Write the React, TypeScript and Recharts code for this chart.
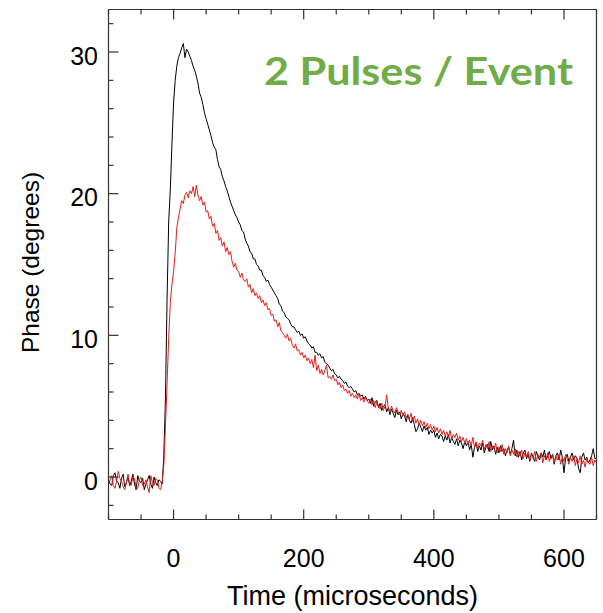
import React from 'react';
import { LineChart, Line, XAxis, YAxis } from 'recharts';

// Time axis (microseconds), 2.5 us sampling
const times = [
  -100, -97.5, -95, -92.5, -90, -87.5, -85, -82.5, -80, -77.5, -75, -72.5, -70, -67.5, -65, -62.5, -60, -57.5, -55, -52.5,
  -50, -47.5, -45, -42.5, -40, -37.5, -35, -32.5, -30, -27.5, -25, -22.5, -20, -17.5, -15, -12.5, -10, -7.5, -5, -2.5,
  0, 2.5, 5, 7.5, 10, 12.5, 15, 17.5, 20, 22.5, 25, 27.5, 30, 32.5, 35, 37.5, 40, 42.5, 45, 47.5,
  50, 52.5, 55, 57.5, 60, 62.5, 65, 67.5, 70, 72.5, 75, 77.5, 80, 82.5, 85, 87.5, 90, 92.5, 95, 97.5,
  100, 102.5, 105, 107.5, 110, 112.5, 115, 117.5, 120, 122.5, 125, 127.5, 130, 132.5, 135, 137.5, 140, 142.5, 145, 147.5,
  150, 152.5, 155, 157.5, 160, 162.5, 165, 167.5, 170, 172.5, 175, 177.5, 180, 182.5, 185, 187.5, 190, 192.5, 195, 197.5,
  200, 202.5, 205, 207.5, 210, 212.5, 215, 217.5, 220, 222.5, 225, 227.5, 230, 232.5, 235, 237.5, 240, 242.5, 245, 247.5,
  250, 252.5, 255, 257.5, 260, 262.5, 265, 267.5, 270, 272.5, 275, 277.5, 280, 282.5, 285, 287.5, 290, 292.5, 295, 297.5,
  300, 302.5, 305, 307.5, 310, 312.5, 315, 317.5, 320, 322.5, 325, 327.5, 330, 332.5, 335, 337.5, 340, 342.5, 345, 347.5,
  350, 352.5, 355, 357.5, 360, 362.5, 365, 367.5, 370, 372.5, 375, 377.5, 380, 382.5, 385, 387.5, 390, 392.5, 395, 397.5,
  400, 402.5, 405, 407.5, 410, 412.5, 415, 417.5, 420, 422.5, 425, 427.5, 430, 432.5, 435, 437.5, 440, 442.5, 445, 447.5,
  450, 452.5, 455, 457.5, 460, 462.5, 465, 467.5, 470, 472.5, 475, 477.5, 480, 482.5, 485, 487.5, 490, 492.5, 495, 497.5,
  500, 502.5, 505, 507.5, 510, 512.5, 515, 517.5, 520, 522.5, 525, 527.5, 530, 532.5, 535, 537.5, 540, 542.5, 545, 547.5,
  550, 552.5, 555, 557.5, 560, 562.5, 565, 567.5, 570, 572.5, 575, 577.5, 580, 582.5, 585, 587.5, 590, 592.5, 595, 597.5,
  600, 602.5, 605, 607.5, 610, 612.5, 615, 617.5, 620, 622.5, 625, 627.5, 630, 632.5, 635, 637.5, 640, 642.5, 645, 647.5,
  650,
];

// Black trace (phase, degrees)
const blackPhase = [
  -0.2, -0.5, -0.6, 0.1, 0.3, -0.3, -0.4, -0.8, -0.1, 0.2, -0.7, -0.4, 0.0, -0.6, -0.3, 0.2, -0.5, -0.9, 0.1, -0.3,
  -0.4, -0.1, -0.9, -0.5, -0.2, 0.1, -0.5, -0.8, 0.0, -0.4, -0.6, -0.2, -0.3, -0.5, 1.5, 5.5, 12.5, 18.0, 20.3, 23.5,
  26.4, 28.0, 29.0, 29.6, 29.9, 30.3, 30.6, 29.6, 30.2, 30.0, 29.7, 29.4, 29.0, 28.7, 28.3, 27.8, 27.1, 26.8, 26.3, 25.7,
  25.3, 24.9, 24.5, 24.1, 23.6, 23.3, 23.1, 22.4, 21.9, 21.7, 21.2, 20.9, 20.5, 20.2, 19.8, 19.4, 19.1, 18.8, 18.5, 18.3,
  18.0, 17.8, 17.4, 17.3, 16.8, 16.5, 16.3, 15.9, 15.8, 15.4, 15.4, 15.0, 14.9, 14.6, 14.6, 14.2, 14.1, 13.8, 13.9, 13.6,
  13.4, 13.2, 13.0, 12.8, 12.6, 12.2, 12.1, 11.7, 11.6, 11.3, 11.2, 11.1, 10.8, 10.6, 10.6, 10.4, 10.2, 10.3, 10.0, 10.1,
  9.8, 9.9, 9.6, 9.4, 9.3, 9.1, 9.2, 8.8, 8.8, 8.6, 8.7, 8.4, 8.5, 8.1, 8.0, 7.9, 7.7, 7.5, 7.6, 7.3,
  7.2, 7.0, 7.1, 6.9, 6.8, 6.6, 6.7, 6.4, 6.3, 6.4, 6.2, 6.0, 6.1, 5.8, 5.9, 5.7, 5.8, 5.5, 5.7, 5.4,
  5.5, 5.2, 5.6, 5.0, 5.3, 5.4, 4.9, 5.2, 4.7, 5.0, 5.1, 4.6, 4.9, 4.4, 4.8, 4.5, 4.2, 4.7, 4.4, 4.6,
  4.1, 4.5, 4.3, 3.9, 4.4, 4.0, 3.8, 4.2, 3.7, 3.2, 3.4, 3.8, 3.5, 3.2, 3.6, 3.3, 3.5, 3.0, 3.3, 3.1,
  3.3, 2.8, 3.1, 2.7, 3.0, 2.9, 2.5, 2.9, 2.6, 3.0, 2.4, 2.8, 2.5, 2.3, 2.7, 2.2, 2.6, 2.4, 2.0, 2.5,
  2.2, 2.5, 1.9, 2.3, 1.4, 2.1, 2.4, 1.8, 2.2, 1.9, 2.4, 1.7, 2.1, 2.3, 1.8, 2.5, 1.9, 2.2, 1.6, 2.1,
  1.7, 2.2, 1.8, 2.0, 1.5, 1.9, 2.1, 1.6, 2.0, 2.6, 1.5, 1.9, 1.4, 1.8, 1.2, 1.7, 1.9, 1.3, 1.6, 1.1,
  1.7, 1.4, 1.1, 1.8, 1.5, 1.2, 1.7, 1.4, 1.9, 1.2, 1.5, 1.8, 1.3, 1.6, 0.9, 1.5, 1.7, 1.2, 1.9, 1.4,
  0.3, 1.3, 1.6, 1.1, 1.4, 1.7, 1.2, 1.5, 1.3, 0.6, 0.3, 1.4, 1.7, 1.2, 1.4, 1.0, 1.2, 1.5, 2.0, 1.3,
  1.3,
];

// Red trace (phase, degrees)
const redPhase = [
  -0.5, -0.2, 0.1, -0.6, -0.8, -0.3, 0.4, -0.1, -0.3, -0.7, -0.9, -0.4, 0.2, -0.5, -0.6, 0.0, -0.1, -0.8, -0.8, -0.2,
  0.0, -0.6, -0.5, -0.2, -0.7, -1.1, 0.1, -0.4, -0.6, -0.1, -0.2, -0.8, -0.9, -0.4, 0.8, 3.5, 6.5, 9.8, 12.3, 13.6,
  14.5, 15.8, 17.6, 18.3, 18.9, 19.5, 19.3, 19.9, 20.1, 19.7, 20.2, 20.0, 20.5, 19.8, 20.6, 19.9, 19.5, 19.8, 19.2, 19.4,
  18.7, 18.8, 18.2, 18.4, 17.7, 17.9, 17.2, 17.4, 16.7, 16.9, 16.3, 16.6, 15.9, 16.2, 15.7, 15.9, 15.2, 14.8, 15.1, 14.6,
  14.5, 14.1, 14.4, 13.9, 13.8, 14.0, 13.4, 13.6, 13.0, 13.3, 12.8, 13.0, 12.6, 12.8, 12.3, 12.5, 12.1, 12.3, 11.8, 11.9,
  11.4, 11.5, 11.0, 11.1, 10.6, 10.9, 10.3, 10.2, 10.0, 9.8, 10.1, 9.6, 9.8, 9.3, 9.1, 9.4, 8.9, 9.0, 8.6, 8.8,
  8.4, 8.6, 8.2, 8.4, 8.0, 8.3, 7.7, 8.6, 7.5, 7.9, 7.3, 7.6, 7.2, 7.5, 7.9, 7.0, 7.1, 6.9, 7.2, 6.8,
  6.9, 6.5, 6.7, 6.3, 6.5, 6.1, 6.2, 5.9, 6.1, 5.7, 5.9, 5.6, 5.8, 5.5, 5.9, 5.4, 5.6, 5.3, 5.6, 5.4,
  5.2, 5.5, 5.1, 5.4, 4.9, 5.3, 5.0, 4.8, 5.2, 4.7, 5.0, 5.8, 4.9, 4.6, 5.0, 4.7, 4.5, 4.9, 4.6, 4.4,
  4.7, 4.3, 4.6, 4.2, 4.4, 4.1, 4.5, 3.9, 4.3, 3.8, 4.1, 3.7, 4.0, 3.6, 3.9, 3.5, 3.8, 3.4, 3.7, 3.3,
  3.6, 3.2, 3.5, 3.1, 3.4, 3.0, 3.3, 2.9, 3.2, 2.8, 3.3, 2.7, 3.0, 2.8, 3.1, 2.6, 2.9, 2.5, 2.8, 2.4,
  2.7, 2.3, 2.6, 2.2, 2.8, 2.1, 2.5, 2.0, 2.4, 2.2, 2.6, 1.9, 2.3, 2.0, 2.5, 1.8, 2.2, 2.0, 2.4, 1.7,
  2.1, 1.8, 2.3, 1.6, 2.0, 1.7, 2.2, 1.5, 1.9, 1.6, 2.0, 1.4, 1.8, 1.5, 1.9, 1.3, 1.7, 1.4, 1.8, 1.2,
  1.6, 1.3, 1.8, 1.1, 1.6, 1.4, 1.7, 1.0, 1.5, 1.2, 1.7, 1.1, 1.4, 1.6, 1.0, 1.5, 1.2, 1.6, 0.9, 1.4,
  1.1, 1.6, 1.3, 0.9, 1.4, 1.1, 1.5, 0.8, 1.3, 1.0, 1.5, 0.9, 1.2, 0.7, 1.3, 1.0, 0.9, 1.4, 0.8, 1.2,
  1.0,
];

const xTicks = [-100, -50, 0, 50, 100, 150, 200, 250, 300, 350, 400, 450, 500, 550, 600, 650];
const xLabelTicks = [0, 200, 400, 600];
const yTicks = [-2, 0, 2, 4, 6, 8, 10, 12, 14, 16, 18, 20, 22, 24, 26, 28, 30, 32];
const yLabelTicks = [0, 10, 20, 30];

const titleText = '2 Pulses / Event';
const xTitle = 'Time (microseconds)';
const yTitle = 'Phase (degrees)';

const data = times.map((t, i) => ({ t, black: blackPhase[i], red: redPhase[i] }));

const AXIS = '#333';
const FONT = '"Liberation Sans", Arial, Helvetica, sans-serif';

// Tick marks are drawn as filled rectangles (inward), labels as text.
function BottomTick(props: any) {
  const { x, y, payload } = props;
  const v = payload.value;
  const major = xLabelTicks.includes(v);
  const len = major ? 10 : 5;
  return (
    <g>
      <rect x={x - 0.6} y={y - len} width={1.2} height={len} fill={AXIS} stroke="none" />
      {major && (
        <text x={x} y={y + 47} textAnchor="middle" fontSize={25} fontFamily={FONT} fill="#000" stroke="none">
          {v}
        </text>
      )}
    </g>
  );
}

function TopTick(props: any) {
  const { x, y, payload } = props;
  const len = xLabelTicks.includes(payload.value) ? 10 : 5;
  return <rect x={x - 0.6} y={y} width={1.2} height={len} fill={AXIS} stroke="none" />;
}

function LeftTick(props: any) {
  const { x, y, payload } = props;
  const v = payload.value;
  const major = yLabelTicks.includes(v);
  const len = major ? 10 : 5;
  return (
    <g>
      <rect x={x} y={y - 0.6} width={len} height={1.2} fill={AXIS} stroke="none" />
      {major && (
        <text x={x - 10.5} y={y + 12.5} textAnchor="end" fontSize={25} fontFamily={FONT} fill="#000" stroke="none">
          {v}
        </text>
      )}
    </g>
  );
}

function RightTick(props: any) {
  const { x, y, payload } = props;
  const len = yLabelTicks.includes(payload.value) ? 10 : 5;
  return <rect x={x - len} y={y - 0.6} width={len} height={1.2} fill={AXIS} stroke="none" />;
}

export default function App() {
  return (
    <div style={{ position: 'absolute', left: 0, top: 0 }}>
      <LineChart width={603} height={613} data={data} margin={{ top: 8.5, right: 5.5, bottom: 0, left: 0 }}>
        <XAxis
          xAxisId="b"
          dataKey="t"
          type="number"
          domain={[-100, 650]}
          ticks={xTicks}
          interval={0}
          height={93.5}
          tickSize={0}
          tickMargin={0}
          tickLine={false}
          tick={BottomTick}
          axisLine={{ stroke: AXIS, strokeWidth: 1.2 }}
        />
        <XAxis
          xAxisId="t"
          orientation="top"
          dataKey="t"
          type="number"
          domain={[-100, 650]}
          ticks={xTicks}
          interval={0}
          height={1}
          tickSize={0}
          tickMargin={0}
          tickLine={false}
          tick={TopTick}
          axisLine={{ stroke: AXIS, strokeWidth: 1.2 }}
        />
        <YAxis
          yAxisId="l"
          type="number"
          domain={[-3, 33]}
          ticks={yTicks}
          interval={0}
          width={108.5}
          tickSize={0}
          tickMargin={0}
          tickLine={false}
          tick={LeftTick}
          axisLine={{ stroke: AXIS, strokeWidth: 1.2 }}
        />
        <YAxis
          yAxisId="r"
          orientation="right"
          type="number"
          domain={[-3, 33]}
          ticks={yTicks}
          interval={0}
          width={1}
          tickSize={0}
          tickMargin={0}
          tickLine={false}
          tick={RightTick}
          axisLine={{ stroke: AXIS, strokeWidth: 1.2 }}
        />
        <Line
          xAxisId="b"
          yAxisId="l"
          type="linear"
          dataKey="black"
          stroke="#000"
          strokeWidth={1}
          dot={false}
          isAnimationActive={false}
        />
        <Line
          xAxisId="b"
          yAxisId="l"
          type="linear"
          dataKey="red"
          stroke="#e0201b"
          strokeWidth={1}
          dot={false}
          isAnimationActive={false}
        />
        <text
          x={264}
          y={85}
          fontSize={37.5}
          fontWeight={700}
          fontFamily="Lato, 'Open Sans', sans-serif"
          fill="#70AD47"
          textLength={309}
          lengthAdjust="spacingAndGlyphs"
        >
          {titleText}
        </text>
        <text x={352.5} y={605} textAnchor="middle" fontSize={27} fontFamily={FONT} fill="#000">
          {xTitle}
        </text>
        <text
          x={39}
          y={262.5}
          transform="rotate(-90 39 262.5)"
          textAnchor="middle"
          fontSize={24.5}
          fontFamily={FONT}
          fill="#000"
        >
          {yTitle}
        </text>
      </LineChart>
    </div>
  );
}
